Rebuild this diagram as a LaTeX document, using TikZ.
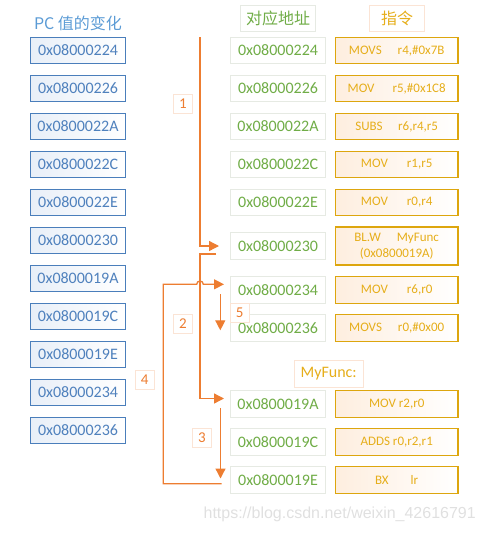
\documentclass[tikz,border=0pt]{standalone}
\usepackage{fontspec}
\setmainfont{Carlito}
\newfontfamily\cjk{Noto Sans CJK SC}
\newfontfamily\wmfont{Liberation Sans}
\usetikzlibrary{arrows.meta,calc}
\definecolor{pcblue}{HTML}{4A7EBB}
\definecolor{pctext}{HTML}{4F81BD}
\definecolor{pcshade}{HTML}{E8EFF8}
\definecolor{titleblue}{HTML}{5B9BD5}
\definecolor{addrgreen}{HTML}{70AD47}
\definecolor{addrborder}{HTML}{E6EAE3}
\definecolor{insborder}{HTML}{DDA60E}
\definecolor{instext}{HTML}{E6AE1A}
\definecolor{flow}{HTML}{ED7D31}
\definecolor{lblborder}{HTML}{FBE4D5}
\definecolor{peach}{HTML}{FEEEDF}
\tikzset{
  pcbox/.style={draw=pcblue, line width=1.2pt, left color=pcshade, right color=white,
    minimum width=95pt, minimum height=26.5pt, inner sep=0pt, text=pctext,
    font=\fontsize{16}{19}\selectfont},
  addrbox/.style={draw=addrborder, line width=1pt, fill=white,
    minimum width=95pt, minimum height=26.5pt, inner sep=0pt, text=addrgreen,
    font=\fontsize{16}{19}\selectfont},
  insbox/.style={draw=insborder, line width=1.2pt, left color=peach, right color=white,
    minimum width=122.5pt, minimum height=26.5pt, inner sep=0pt, text=instext,
    font=\fontsize{13}{15.7}\selectfont, align=center},
  lbl/.style={draw=lblborder, fill=white, line width=1pt, minimum size=19pt,
    inner sep=0pt, text=flow, font=\fontsize{15}{18}\selectfont},
  headbox/.style={line width=1pt, fill=white, inner sep=0pt, minimum height=26.4pt},
  flowline/.style={draw=flow, line width=1.3pt},
  arr/.style={-{Triangle[length=10pt,width=10pt]}}
}
\begin{document}
\begin{tikzpicture}[x=1pt,y=-1pt]
\useasboundingbox (0,0) rectangle (485,533);
% title
\node[text=titleblue, font=\cjk\fontsize{16}{19}\selectfont] (title) at (78,23) {PC 值的变化};
% left column
\foreach \t [count=\i from 0] in {0x08000224,0x08000226,0x0800022A,0x0800022C,0x0800022E,0x08000230,0x0800019A,0x0800019C,0x0800019E,0x08000234,0x08000236}
  \node[pcbox] (pc\i) at (78,50.5+38*\i) {\t};
% headers
\node[headbox, draw=addrborder, minimum width=75.5pt, text=addrgreen, font=\cjk\fontsize{16}{19}\selectfont] (hAddr) at (278,18.5) {对应地址};
\node[headbox, draw=lblborder, minimum width=55pt, text=instext, font=\cjk\fontsize{16}{19}\selectfont] (hIns) at (397,18.5) {指令};
% flow lines (drawn under boxes)
\coordinate (l1s) at (200,37);
\coordinate (l1c) at (200,246);
\coordinate (l1e) at (219,246);
\draw[flowline, arr] (l1s) -- (l1c) -- (l1e);
\coordinate (l2s) at (216,254);
\coordinate (l2a) at (200,254);
\coordinate (l2b) at (200,398.5);
\coordinate (l2e) at (224,398.5);
\draw[flowline, arr] (l2s) -- (l2a) -- (l2b) -- (l2e);
\coordinate (l3s) at (220.5,408);
\coordinate (l3e) at (220.5,478.5);
\draw[flowline, arr] (l3s) -- (l3e);
\coordinate (l4s) at (221.7,483.7);
\coordinate (l4a) at (163.3,483.7);
\coordinate (l4b) at (163.3,284.3);
\coordinate (l4c) at (196.7,284.3);
\coordinate (l4e) at (224,284.3);
\draw[flowline, arr] (l4s) -- (l4a) -- (l4b) -- (l4c) arc (180:360:3.3) -- (l4e);
\coordinate (l5s) at (220.3,294);
\coordinate (l5e) at (220.3,330.3);
\draw[flowline, arr] (l5s) -- (l5e);
% middle column
\node[addrbox] (a224) at (278,50.5) {0x08000224};
\node[addrbox] (a226) at (278,88.5) {0x08000226};
\node[addrbox] (a22A) at (278,126.5) {0x0800022A};
\node[addrbox] (a22C) at (278,164.5) {0x0800022C};
\node[addrbox] (a22E) at (278,202.5) {0x0800022E};
\node[addrbox] (a230) at (278,246) {0x08000230};
\node[addrbox] (a234) at (278,290) {0x08000234};
\node[addrbox] (a236) at (278,328) {0x08000236};
\node[addrbox] (a19A) at (278,404) {0x0800019A};
\node[addrbox] (a19C) at (278,442) {0x0800019C};
\node[addrbox] (a19E) at (278,480) {0x0800019E};
% right column
\node[insbox] (i224) at (396.7,50.5) {MOVS\hspace{16pt}r4,\#0x7B};
\node[insbox] (i226) at (396.7,88.5) {MOV\hspace{18pt}r5,\#0x1C8};
\node[insbox] (i22A) at (396.7,126.5) {SUBS\hspace{15.5pt}r6,r4,r5};
\node[insbox] (i22C) at (396.7,164.5) {MOV\hspace{19pt}r1,r5};
\node[insbox] (i22E) at (396.7,202.5) {MOV\hspace{19pt}r0,r4};
\node[insbox, minimum height=38pt] (i230) at (396.7,246) {BL.W\hspace{16pt}MyFunc\\(0x0800019A)};
\node[insbox] (i234) at (396.7,290) {MOV\hspace{19pt}r6,r0};
\node[insbox] (i236) at (396.7,328) {MOVS\hspace{16pt}r0,\#0x00};
\node[insbox] (i19A) at (396.7,404) {MOV r2,r0};
\node[insbox] (i19C) at (396.7,442) {ADDS r0,r2,r1};
\node[insbox] (i19E) at (396.7,480) {BX\hspace{22pt}lr};
% MyFunc label
\node[headbox, draw=lblborder, minimum width=69pt, text=instext, font=\fontsize{16}{19}\selectfont] (myf) at (328.7,374) {MyFunc:};
% step labels
\node[lbl] (n1) at (183,104) {1};
\node[lbl] (n2) at (183,324) {2};
\node[lbl] (n3) at (202,438) {3};
\node[lbl] (n4) at (144.7,380) {4};
\node[lbl] (n5) at (239.7,312.5) {5};
% watermark
\node[anchor=east, text=black!12, font=\wmfont\fontsize{16}{18}\selectfont, inner sep=0pt] (wm) at (476,514) {https://blog.csdn.net/weixin\_42616791};
\end{tikzpicture}
\end{document}
